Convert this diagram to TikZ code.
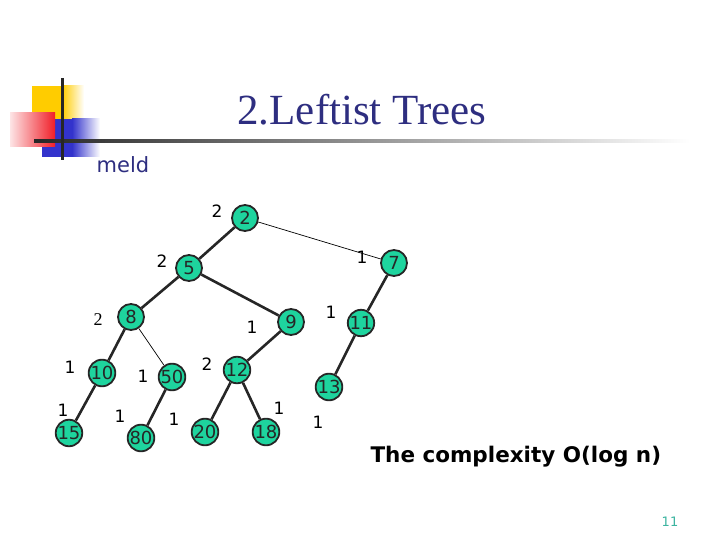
\documentclass[tikz,border=0pt]{standalone}
\usepackage{fontspec}
\setmainfont{Liberation Serif}
\newfontfamily\vsans{DejaVu Sans}
\definecolor{navy}{RGB}{46,46,128}
\definecolor{nodegreen}{RGB}{30,212,158}
\definecolor{pagenum}{RGB}{60,180,160}
\definecolor{ylw}{RGB}{255,204,0}
\definecolor{blu}{RGB}{51,51,204}
\definecolor{rd}{RGB}{240,30,40}
\begin{document}
\begin{tikzpicture}[x=1pt,y=-1pt,
  tn/.style={circle,draw=black!85,line width=1.8pt,fill=nodegreen,inner sep=0pt,minimum size=26pt,font=\vsans\fontsize{18}{18}\selectfont,text=black!85},
  lbl/.style={font=\vsans\fontsize{17}{17}\selectfont,text=black},
  thick edge/.style={line width=2.6pt,black!85},
  thin edge/.style={line width=0.7pt,black}]
\useasboundingbox (0,0) rectangle (720,540);
% decoration
\fill[ylw] (32,86) rectangle (62,119);
\shade[left color=ylw,right color=white] (62,86) rectangle (84,119);
\fill[blu] (42,119) rectangle (72,157);
\shade[left color=blu,right color=white] (72,119) rectangle (100,157);
\shade[left color=rd!12,right color=rd] (10,113) rectangle (55,147);
\shade[left color=black!85,right color=white] (34,139.5) rectangle (690,142.5);
\draw[black!85,line width=3pt] (62,78) -- (62,160);
% titles
\node[font=\fontsize{43}{43}\selectfont,text=navy,anchor=base] (title) at (362,125) {2.Leftist Trees};
\node[font=\vsans\fontsize{21}{21}\selectfont,text=navy,anchor=base] (meld) at (123,173) {meld};
\node[font=\vsans\bfseries\fontsize{21.5}{21.5}\selectfont,text=black,anchor=base west] (cplx) at (367,462) {The complexity O(log n)};
\node[font=\vsans\fontsize{13}{13}\selectfont,text=pagenum] (pg) at (670,522) {11};
% nodes
\node[tn] (n2) at (245,218) {2};
\node[tn] (n5) at (189,268) {5};
\node[tn] (n7) at (394,263) {7};
\node[tn] (n8) at (131,317) {8};
\node[tn] (n9) at (291,322) {9};
\node[tn] (n11) at (361,323) {11};
\node[tn] (n10) at (102,373) {10};
\node[tn] (n50) at (172,377) {50};
\node[tn] (n12) at (237,370) {12};
\node[tn] (n13) at (329,387) {13};
\node[tn] (n15) at (69,433) {15};
\node[tn] (n80) at (141,438) {80};
\node[tn] (n20) at (205,432) {20};
\node[tn] (n18) at (266,432) {18};
% edges
\draw[thick edge] (n2) -- (n5);
\draw[thin edge] (n2) -- (n7);
\draw[thick edge] (n5) -- (n8);
\draw[thick edge] (n5) -- (n9);
\draw[thick edge] (n7) -- (n11);
\draw[thick edge] (n8) -- (n10);
\draw[thin edge] (n8) -- (n50);
\draw[thick edge] (n9) -- (n12);
\draw[thick edge] (n11) -- (n13);
\draw[thick edge] (n10) -- (n15);
\draw[thick edge] (n50) -- (n80);
\draw[thick edge] (n12) -- (n20);
\draw[thick edge] (n12) -- (n18);
% labels
\node[lbl] (l2) at (217,211) {2};
\node[lbl] (l5) at (162,261) {2};
\node[lbl] (l7) at (362,257) {1};
\node[lbl,font=\fontsize{18}{18}\selectfont] (l8) at (98,320) {2};
\node[lbl] (l9) at (252,327) {1};
\node[lbl] (l11) at (331,312) {1};
\node[lbl] (l10) at (70,367) {1};
\node[lbl] (l50) at (143,376) {1};
\node[lbl] (l12) at (207,364) {2};
\node[lbl] (l15) at (63,410) {1};
\node[lbl] (l80) at (120,416) {1};
\node[lbl] (l20) at (174,419) {1};
\node[lbl] (l18) at (279,408) {1};
\node[lbl] (l13) at (318,422) {1};
\end{tikzpicture}
\end{document}
